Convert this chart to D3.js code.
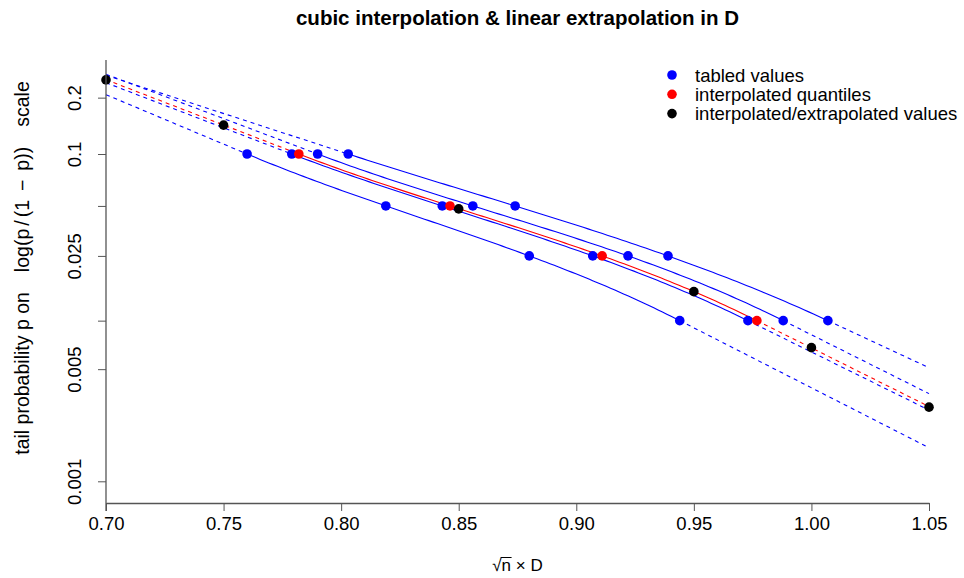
<!DOCTYPE html>
<html>
<head>
<meta charset="utf-8">
<script src="https://cdn.jsdelivr.net/npm/d3@7"></script>
<style>
  html, body { margin: 0; padding: 0; background: #fff; }
  svg { display: block; }
  text { font-family: "Liberation Sans", Arial, Helvetica, sans-serif; fill: #000; }
</style>
</head>
<body>
<div id="chart"></div>
<script>
// tail probabilities of the table columns
const pLevels = [0.1, 0.05, 0.025, 0.01];

// tabled critical values of sqrt(n) * D, one row per table line
const tabledRows = [
  [0.760, 0.819, 0.880, 0.944],
  [0.779, 0.843, 0.907, 0.973],
  [0.790, 0.856, 0.922, 0.988],
  [0.803, 0.874, 0.939, 1.007]
];

// quantiles interpolated between two table lines
const interpQuantiles = [0.782, 0.8463, 0.911, 0.9768];

// sqrt(n) * D values and their interpolated / extrapolated tail probabilities
const evalD = [0.70, 0.75, 0.85, 0.95, 1.00, 1.05];
const evalP = [0.244, 0.144, 0.048, 0.0151, 0.0068, 0.0029];

// axis ticks
const xTicks = [0.70, 0.75, 0.80, 0.85, 0.90, 0.95, 1.00, 1.05];
const yTicks = [0.001, 0.005, 0.01, 0.025, 0.05, 0.1, 0.2];
const yTickLabels = ["0.001", "0.005", "", "0.025", "", "0.1", "0.2"];

// legend
const legendLabels = ["tabled values", "interpolated quantiles", "interpolated/extrapolated values"];
const legendColors = ["blue", "red", "black"];

const W = 964, H = 578;
const left = 106, right = 929;
const axisY = 503;
const frameTop = 60, frameBottom = 511;

const logit = p => Math.log(p / (1 - p));

const x = d3.scaleLinear().domain([0.70, 1.05]).range([left, right]);
const yL = d3.scaleLinear().domain([logit(0.001), logit(0.1)]).range([481.3, 154]);
const y = p => yL(logit(p));

// cubic (Newton form) through four (D, logit p) nodes, extended linearly
// beyond the end nodes with the end slopes
function makeCurve(ds) {
  const xs = ds.slice();
  const c = pLevels.map(logit);
  const n = xs.length;
  for (let j = 1; j < n; j++) {
    for (let i = n - 1; i >= j; i--) {
      c[i] = (c[i] - c[i - 1]) / (xs[i] - xs[i - j]);
    }
  }
  const poly = t => {
    let v = c[n - 1];
    for (let i = n - 2; i >= 0; i--) v = v * (t - xs[i]) + c[i];
    return v;
  };
  const h = 1e-6;
  const slope = t => (poly(t + h) - poly(t - h)) / (2 * h);
  const lo = xs[0], hi = xs[n - 1];
  const sLo = slope(lo), sHi = slope(hi);
  const f = t => t < lo ? poly(lo) + sLo * (t - lo)
               : t > hi ? poly(hi) + sHi * (t - hi)
               : poly(t);
  return { f, lo, hi };
}

const svg = d3.select("#chart").append("svg")
  .attr("width", W).attr("height", H)
  .attr("viewBox", `0 0 ${W} ${H}`);

const line = d3.line().x(d => x(d[0])).y(d => yL(d[1]));

function drawCurve(ds, color) {
  const cv = makeCurve(ds);
  const inner = d3.range(0, 101).map(i => cv.lo + (cv.hi - cv.lo) * i / 100);
  svg.append("path")
    .attr("d", line(inner.map(t => [t, cv.f(t)])))
    .attr("fill", "none").attr("stroke", color).attr("stroke-width", 1.1);
  const dashed = [[x.domain()[0], cv.lo], [cv.hi, x.domain()[1]]];
  dashed.forEach(([a, b]) => {
    svg.append("path")
      .attr("d", line([a, b].map(t => [t, cv.f(t)])))
      .attr("fill", "none").attr("stroke", color).attr("stroke-width", 1.1)
      .attr("stroke-dasharray", "4,4");
  });
}

tabledRows.forEach(r => drawCurve(r, "blue"));
drawCurve(interpQuantiles, "red");

// points
const R = 4.8;
tabledRows.forEach(r => {
  svg.append("g").selectAll("circle").data(r).join("circle")
    .attr("cx", d => x(d)).attr("cy", (d, i) => y(pLevels[i]))
    .attr("r", R).attr("fill", "blue");
});
svg.append("g").selectAll("circle").data(interpQuantiles).join("circle")
  .attr("cx", d => x(d)).attr("cy", (d, i) => y(pLevels[i]))
  .attr("r", R).attr("fill", "red");
svg.append("g").selectAll("circle").data(evalD).join("circle")
  .attr("cx", d => x(d)).attr("cy", (d, i) => y(evalP[i]))
  .attr("r", R).attr("fill", "black");

// axes
const axisColor = "#555";
const xAxis = svg.append("g")
  .attr("transform", `translate(0,${axisY})`)
  .call(d3.axisBottom(x).tickValues(xTicks).tickFormat(d3.format(".2f"))
        .tickSize(8).tickSizeOuter(0).tickPadding(6));
xAxis.select(".domain").attr("stroke", axisColor).attr("stroke-width", 1.3);
xAxis.selectAll(".tick line").attr("stroke", axisColor);
xAxis.selectAll(".tick text").attr("font-size", 18.5).attr("fill", "#000")
  .attr("font-family", "Liberation Sans, Arial, sans-serif");

const yAxis = svg.append("g")
  .attr("transform", `translate(${left},0)`)
  .call(d3.axisLeft(yL).tickValues(yTicks.map(logit))
        .tickFormat((d, i) => yTickLabels[i]).tickSize(8).tickSizeOuter(0));
yAxis.select(".domain").remove();
yAxis.selectAll(".tick line").attr("stroke", axisColor);
yAxis.selectAll(".tick text")
  .attr("font-size", 18.5).attr("fill", "#000")
  .attr("font-family", "Liberation Sans, Arial, sans-serif")
  .attr("text-anchor", "middle").attr("x", null).attr("dy", null)
  .attr("transform", "translate(-25,0) rotate(-90)");
svg.append("line")
  .attr("x1", left).attr("x2", left).attr("y1", frameTop).attr("y2", frameBottom)
  .attr("stroke", axisColor).attr("stroke-width", 1.3);

// titles
svg.append("text")
  .attr("x", (left + right) / 2).attr("y", 25)
  .attr("text-anchor", "middle").attr("font-size", 20.5).attr("font-weight", "bold")
  .text("cubic interpolation & linear extrapolation in D");

// y axis title, with math-style spacing in the log-odds part
const yt = svg.append("text")
  .attr("transform", `translate(29,268) rotate(-90)`)
  .attr("text-anchor", "middle").attr("font-size", 19.5);
yt.append("tspan").text("tail probability p on");
yt.append("tspan").attr("dx", 20).text("log(p");
yt.append("tspan").attr("dx", 3).text("/");
yt.append("tspan").attr("dx", 3).text("(1");
yt.append("tspan").attr("dx", 9).text("\u2212");
yt.append("tspan").attr("dx", 9).text("p))");
yt.append("tspan").attr("dx", 20).text("scale");

// x axis title: sqrt(n) x D
const xt = svg.append("g").attr("transform", `translate(${(left + right) / 2},571)`);
const xtText = xt.append("text").attr("text-anchor", "middle").attr("font-size", 17);
xtText.append("tspan").text("\u221A");
const nSpan = xtText.append("tspan").text("n");
xtText.append("tspan").text(" \u00D7 D");
const nb = nSpan.node().getBBox();
const tb = xtText.node().getBBox();
xt.append("line")
  .attr("x1", nb.x - 1).attr("x2", nb.x + nb.width + 0.5)
  .attr("y1", tb.y + 1.5).attr("y2", tb.y + 1.5)
  .attr("stroke", "#000").attr("stroke-width", 1);

// legend
const lg = svg.append("g");
legendLabels.forEach((lab, i) => {
  const cy = 75 + i * 19.3;
  lg.append("circle").attr("cx", 672).attr("cy", cy).attr("r", R).attr("fill", legendColors[i]);
  lg.append("text").attr("x", 695).attr("y", cy + 6.5).attr("font-size", 18.5).text(lab);
});
</script>
</body>
</html>
